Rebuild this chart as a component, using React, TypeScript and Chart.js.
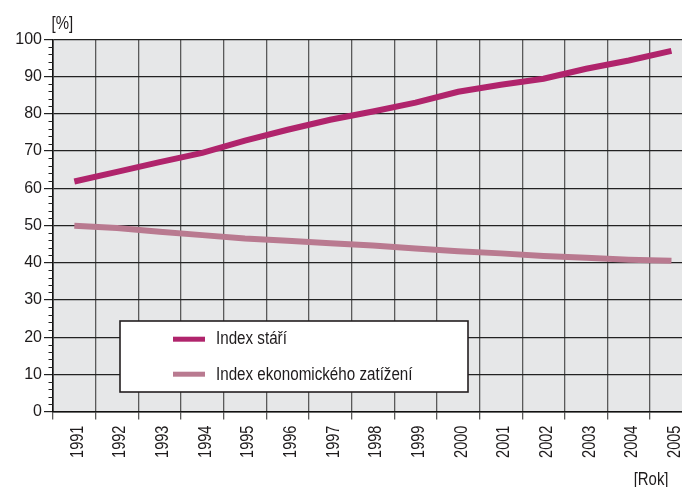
import React, { useEffect, useRef } from "react";
import { Chart, registerables } from "chart.js";

Chart.register(...registerables);

const years = ["1991","1992","1993","1994","1995","1996","1997","1998","1999","2000","2001","2002","2003","2004","2005"];
const indexStari = [61.8, 64.4, 67.0, 69.5, 72.8, 75.7, 78.4, 80.6, 83.0, 85.9, 87.8, 89.4, 92.1, 94.3, 96.9];
const indexEkon = [49.9, 49.3, 48.3, 47.4, 46.5, 45.9, 45.2, 44.6, 43.8, 43.1, 42.5, 41.8, 41.3, 40.8, 40.5];
const seriesLabels = ["Index stáří", "Index ekonomického zatížení"];
const seriesColors = ["#b0246c", "#b97a90"];
const yTicksMajor = [0, 10, 20, 30, 40, 50, 60, 70, 80, 90, 100];
const yUnit = "[%]";
const xUnit = "[Rok]";

const REG = '"Liberation Sans", Arial, sans-serif';
const TEXT = "#1e1b1c";
const NARROW_SCALE = 0.83;

function narrowText(ctx: any, text: string, x: number, y: number, size: number, align: string, rot = 0) {
  ctx.save();
  ctx.translate(x, y);
  if (rot) ctx.rotate(rot);
  ctx.scale(NARROW_SCALE, 1);
  ctx.font = size + "px " + REG;
  ctx.textAlign = align;
  ctx.textBaseline = "alphabetic";
  ctx.fillStyle = TEXT;
  ctx.fillText(text, 0, 0);
  ctx.restore();
}

const decorPlugin = {
  id: "decor",
  beforeDraw(chart: any) {
    const { ctx, chartArea } = chart;
    ctx.save();
    ctx.fillStyle = "#e6e7e8";
    ctx.fillRect(chartArea.left, chartArea.top, chartArea.right - chartArea.left, chartArea.bottom - chartArea.top);
    ctx.restore();
  },
  afterDraw(chart: any) {
    const { ctx, chartArea } = chart;
    const y = chart.scales.y;
    const x = chart.scales.x;
    ctx.save();
    // minor ticks on y axis
    ctx.strokeStyle = "#222";
    ctx.lineWidth = 1;
    for (let v = 2; v < 100; v += 2) {
      if (v % 10 === 0) continue;
      const py = Math.round(y.getPixelForValue(v)) + 0.5;
      ctx.beginPath();
      ctx.moveTo(chartArea.left - 4.5, py);
      ctx.lineTo(chartArea.left, py);
      ctx.stroke();
    }
    // x tick labels (rotated, condensed), one per category
    const labels = chart.data.labels as string[];
    labels.forEach((lab, i) => {
      const px = x.getPixelForValue(i);
      narrowText(ctx, lab, px + 8.4, chartArea.bottom + 14, 17.5, "right", -Math.PI / 2);
    });
    // unit labels
    narrowText(ctx, yUnit, 51.5, 28.5, 18, "left");
    narrowText(ctx, xUnit, 668.5, 484.5, 18, "right");

    // legend
    const lx = 120, ly = 321, lw = 348, lh = 71;
    ctx.fillStyle = "#ffffff";
    ctx.fillRect(lx, ly, lw, lh);
    ctx.strokeStyle = "#231f20";
    ctx.lineWidth = 1.6;
    ctx.strokeRect(lx, ly, lw, lh);
    const rows = [339.2, 374.2];
    const bases = [344, 380];
    chart.data.datasets.forEach((ds: any, i: number) => {
      const ry = rows[i];
      ctx.strokeStyle = ds.borderColor;
      ctx.lineWidth = 5;
      ctx.lineCap = "butt";
      ctx.beginPath();
      ctx.moveTo(173, ry);
      ctx.lineTo(205, ry);
      ctx.stroke();
      narrowText(ctx, ds.label, 216, bases[i], 18.3, "left");
    });
    ctx.restore();
  },
};

export default function App() {
  const ref = useRef<HTMLCanvasElement | null>(null);
  useEffect(() => {
    document.body.style.margin = "0";
    const canvas = ref.current!;
    const chart = new Chart(canvas, {
      type: "line",
      data: {
        labels: years,
        datasets: [
          {
            label: seriesLabels[0],
            data: indexStari.map((v, i) => ({ x: i, y: v })),
            borderColor: seriesColors[0],
            backgroundColor: seriesColors[0],
            borderWidth: 6,
            pointRadius: 0,
            tension: 0,
            borderCapStyle: "butt",
          },
          {
            label: seriesLabels[1],
            data: indexEkon.map((v, i) => ({ x: i, y: v })),
            borderColor: seriesColors[1],
            backgroundColor: seriesColors[1],
            borderWidth: 6,
            pointRadius: 0,
            tension: 0,
            borderCapStyle: "butt",
          },
        ],
      },
      options: {
        responsive: false,
        animation: false,
        devicePixelRatio: 1,
        layout: { padding: { left: 0, top: 39.3, right: 0, bottom: 0 } },
        plugins: { legend: { display: false }, tooltip: { enabled: false } },
        scales: {
          x: {
            type: "linear",
            min: -0.5,
            max: 14.247,
            afterBuildTicks: (s: any) => {
              s.ticks = years.map((_, i) => ({ value: i - 0.5 }));
            },
            grid: {
              color: "#5a5a5a",
              lineWidth: 1.3,
              tickLength: 8,
              tickColor: "#5a5a5a",
              drawOnChartArea: true,
            },
            border: { display: true, color: "#111", width: 1.6 },
            ticks: { display: false },
            afterFit: (s: any) => {
              s.height = 487 - 411.6;
            },
          },
          y: {
            min: 0,
            max: 100,
            afterBuildTicks: (s: any) => {
              s.ticks = yTicksMajor.map((v) => ({ value: v }));
            },
            grid: {
              color: "#222",
              lineWidth: 1.2,
              tickLength: 9,
              tickColor: "#222",
            },
            border: { display: true, color: "#111", width: 1.6 },
            ticks: {
              padding: 2,
              color: TEXT,
              font: { family: REG, size: 16 },
            },
            afterFit: (s: any) => {
              s.width = 53;
            },
          },
        },
      },
      plugins: [decorPlugin],
    });
    return () => chart.destroy();
  }, []);
  return (
    <div style={{ width: 682, height: 487, overflow: "hidden", position: "relative", background: "#fff" }}>
      <canvas ref={ref} width={682} height={487} style={{ display: "block", width: 682, height: 487 }} />
    </div>
  );
}
